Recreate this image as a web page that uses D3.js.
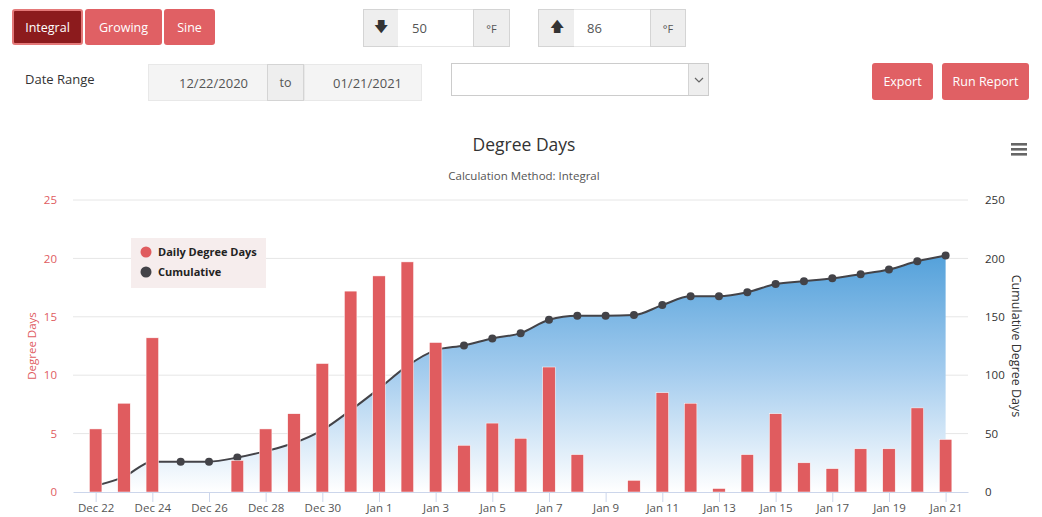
<!DOCTYPE html>
<html>
<head>
<meta charset="utf-8">
<script src="https://cdnjs.cloudflare.com/ajax/libs/d3/7.8.5/d3.min.js"></script>
<style>
  body { margin: 0; background: #fff; font-family: "Open Sans", sans-serif; }
  #page { position: relative; width: 1042px; height: 517px; overflow: hidden; }
  .box { position: absolute; box-sizing: border-box; display: flex; align-items: center; font-size: 12.5px; }
  .btn { background: #e06064; color: #fff; justify-content: center; border-radius: 3px; }
  .btn.active { background: #8c1b1d; border: 2px solid #e47878; }
  .addon { background: #eeeeee; border: 1px solid #d4d4d4; color: #555; justify-content: center; }
  .inp { background: #fff; border-top: 1px solid #e6e6e6; border-bottom: 1px solid #e6e6e6; color: #555; }
  .date { background: #f4f4f4; border: 1px solid #e8e8e8; color: #555; justify-content: flex-end; }
  #chart { position: absolute; left: 0; top: 0; }
</style>
</head>
<body>
<div id="page">
  <div class="box btn active" style="left:12px;top:9px;width:71px;height:36px;">Integral</div>
  <div class="box btn" style="left:85px;top:9px;width:77px;height:36px;">Growing</div>
  <div class="box btn" style="left:164px;top:9px;width:51px;height:36px;">Sine</div>

  <div class="box addon" style="left:363px;top:9px;width:36px;height:38px;font-size:14px;color:#333;">&#129095;</div>
  <div class="box inp" style="left:398px;top:9px;width:76px;height:38px;padding-left:14px;font-size:13px;">50</div>
  <div class="box addon" style="left:473px;top:9px;width:37px;height:38px;font-size:11px;">°F</div>

  <div class="box addon" style="left:538px;top:9px;width:37px;height:38px;font-size:14px;color:#333;">&#129093;</div>
  <div class="box inp" style="left:574px;top:9px;width:76px;height:38px;padding-left:13px;font-size:13px;">86</div>
  <div class="box addon" style="left:650px;top:9px;width:36px;height:38px;font-size:11px;">°F</div>

  <div class="box" style="left:25px;top:68px;height:22px;color:#333;font-size:13px;">Date Range</div>
  <div class="box date" style="left:148px;top:64px;width:120px;height:37px;padding-right:19px;font-size:13px;">12/22/2020</div>
  <div class="box addon" style="left:267px;top:64px;width:37px;height:37px;font-size:12.5px;">to</div>
  <div class="box date" style="left:304px;top:64px;width:118px;height:37px;padding-right:19px;font-size:13px;">01/21/2021</div>

  <div class="box" style="left:451px;top:63px;width:258px;height:33px;border:1px solid #ccc;background:#fff;"></div>
  <div class="box addon" style="left:688px;top:64px;width:20px;height:31px;border-width:0 0 0 1px;">
    <svg width="10" height="6"><polyline points="1,1 5,5 9,1" fill="none" stroke="#666" stroke-width="1.2"/></svg>
  </div>

  <div class="box btn" style="left:872px;top:63px;width:61px;height:37px;">Export</div>
  <div class="box btn" style="left:942px;top:63px;width:87px;height:37px;">Run Report</div>

  <svg id="chart" width="1042" height="517"></svg>
</div>
<script>
// categories: one entry per day of the report
const days = d3.timeDay.range(new Date(2020, 11, 22), new Date(2021, 0, 22));

// daily degree days (left axis)
const daily = [5.4, 7.6, 13.2, 0, 0, 2.7, 5.4, 6.7, 11.0, 17.2, 18.5, 19.7,
  12.8, 4.0, 5.9, 4.6, 10.7, 3.2, 0, 1.0, 8.5, 7.6, 0.3, 3.2, 6.7, 2.5, 2.0,
  3.7, 3.7, 7.2, 4.5];

// cumulative degree days (right axis)
const cumulative = [5.4, 13.0, 26.0, 26.0, 26.0, 29.5, 35.0, 42.0, 53.0, 70.0,
  88.5, 108.0, 121.5, 125.5, 131.5, 136.0, 147.5, 151.0, 151.0, 151.5, 160.0,
  167.5, 167.5, 171.0, 178.0, 180.5, 183.0, 186.5, 190.5, 197.5, 202.5];

const leftTicks = [0, 5, 10, 15, 20, 25];
const rightTicks = [0, 50, 100, 150, 200, 250];
const xTickDays = days.filter((d, i) => i % 2 === 0);

const seriesNames = ['Daily Degree Days', 'Cumulative'];
const seriesColors = ['#e05c5f', '#434348'];

const plot = { left: 73, right: 968, top: 200, bottom: 492 };

const svg = d3.select('#chart');

// Scales
const dayMs = 86400000;
const x = d3.scaleTime()
  .domain([new Date(+days[0] - 0.8 * dayMs), new Date(+days[days.length - 1] + 0.79 * dayMs)])
  .range([plot.left, plot.right]);
const yLeft = d3.scaleLinear().domain([0, 25]).range([plot.bottom, plot.top]);
const yRight = d3.scaleLinear().domain([0, 250]).range([plot.bottom, plot.top]);
const barWidth = 12.5;

// Title
svg.append('text')
  .attr('x', 524).attr('y', 151)
  .attr('text-anchor', 'middle')
  .style('font-size', '17.5px')
  .style('fill', '#333')
  .text('Degree Days');

svg.append('text')
  .attr('x', 524).attr('y', 180)
  .attr('text-anchor', 'middle')
  .style('font-size', '11.5px')
  .style('fill', '#555')
  .text('Calculation Method: Integral');

// Hamburger menu
[0, 5, 10].forEach(off => {
  svg.append('rect')
    .attr('x', 1011).attr('y', 143 + off)
    .attr('width', 16).attr('height', 2.6)
    .attr('fill', '#666');
});

// Gridlines
svg.append('g')
  .selectAll('line')
  .data(leftTicks.slice(1))
  .join('line')
  .attr('x1', plot.left).attr('x2', plot.right)
  .attr('y1', d => yLeft(d)).attr('y2', d => yLeft(d))
  .attr('stroke', '#e6e6e6');

// Area gradient
const defs = svg.append('defs');
const grad = defs.append('linearGradient')
  .attr('id', 'areaGrad')
  .attr('gradientUnits', 'userSpaceOnUse')
  .attr('x1', 0).attr('x2', 0)
  .attr('y1', yRight(205)).attr('y2', plot.bottom);
grad.append('stop').attr('offset', 0).attr('stop-color', '#52a0da');
grad.append('stop').attr('offset', 0.5).attr('stop-color', '#a4ccee');
grad.append('stop').attr('offset', 1).attr('stop-color', '#ffffff');

const cumData = days.map((d, i) => ({ date: d, value: cumulative[i] }));

const area = d3.area()
  .x(d => x(d.date))
  .y0(plot.bottom)
  .y1(d => yRight(d.value))
  .curve(d3.curveMonotoneX);

const line = d3.line()
  .x(d => x(d.date))
  .y(d => yRight(d.value))
  .curve(d3.curveMonotoneX);

svg.append('path')
  .datum(cumData)
  .attr('d', area)
  .attr('fill', 'url(#areaGrad)');

svg.append('path')
  .datum(cumData)
  .attr('d', line)
  .attr('fill', 'none')
  .attr('stroke', seriesColors[1])
  .attr('stroke-width', 2);

svg.append('g')
  .selectAll('circle')
  .data(cumData)
  .join('circle')
  .attr('cx', d => x(d.date))
  .attr('cy', d => yRight(d.value))
  .attr('r', 4)
  .attr('fill', seriesColors[1]);

// Bars (drawn above the cumulative area)
svg.append('g')
  .selectAll('rect')
  .data(days.map((d, i) => ({ date: d, value: daily[i] })).filter(d => d.value > 0))
  .join('rect')
  .attr('x', d => x(d.date) - barWidth / 2)
  .attr('y', d => yLeft(d.value))
  .attr('width', barWidth)
  .attr('height', d => plot.bottom - yLeft(d.value))
  .attr('fill', seriesColors[0])
  .attr('stroke', '#fff')
  .attr('stroke-width', 0.5);

// X axis
const xAxis = d3.axisBottom(x)
  .tickValues(xTickDays)
  .tickFormat(d3.timeFormat('%b %-d'))
  .tickSize(10)
  .tickSizeOuter(0);

const xg = svg.append('g')
  .attr('transform', `translate(0,${plot.bottom})`)
  .call(xAxis);
xg.select('.domain').attr('stroke', '#ccd6eb');
xg.selectAll('.tick line').attr('stroke', '#ccd6eb');
xg.selectAll('.tick text')
  .attr('dy', 0).attr('y', 20)
  .style('font-family', '"Open Sans", sans-serif')
  .style('font-size', '11.5px')
  .style('fill', '#555');

// Left axis
const yl = svg.append('g')
  .attr('transform', `translate(${plot.left - 13},0)`)
  .call(d3.axisLeft(yLeft).tickValues(leftTicks).tickSize(0));
yl.select('.domain').remove();
yl.selectAll('text')
  .style('font-family', '"Open Sans", sans-serif')
  .style('font-size', '11.5px')
  .style('fill', '#e05c5f');

svg.append('text')
  .attr('transform', `translate(36,${(plot.top + plot.bottom) / 2}) rotate(-90)`)
  .attr('text-anchor', 'middle')
  .style('font-size', '11.5px')
  .style('fill', '#e05c5f')
  .text('Degree Days');

// Right axis
const yr = svg.append('g')
  .attr('transform', `translate(${plot.right + 14},0)`)
  .call(d3.axisRight(yRight).tickValues(rightTicks).tickSize(0));
yr.select('.domain').remove();
yr.selectAll('text')
  .style('font-family', '"Open Sans", sans-serif')
  .style('font-size', '11.5px')
  .style('fill', '#333');

svg.append('text')
  .attr('transform', `translate(1012,${(plot.top + plot.bottom) / 2}) rotate(90)`)
  .attr('text-anchor', 'middle')
  .style('font-size', '12.5px')
  .style('fill', '#333')
  .text('Cumulative Degree Days');

// Legend
const legend = svg.append('g').attr('transform', 'translate(131,238)');
legend.append('rect')
  .attr('width', 135).attr('height', 50)
  .attr('fill', '#f6eded');
seriesNames.forEach((name, i) => {
  const row = legend.append('g').attr('transform', `translate(0,${14 + i * 20})`);
  row.append('circle')
    .attr('cx', 15).attr('cy', 0).attr('r', 5.5)
    .attr('fill', seriesColors[i]);
  row.append('text')
    .attr('x', 27).attr('y', 4)
    .style('font-size', '11px')
    .style('font-weight', 'bold')
    .style('fill', '#222')
    .text(name);
});
</script>
</body>
</html>
